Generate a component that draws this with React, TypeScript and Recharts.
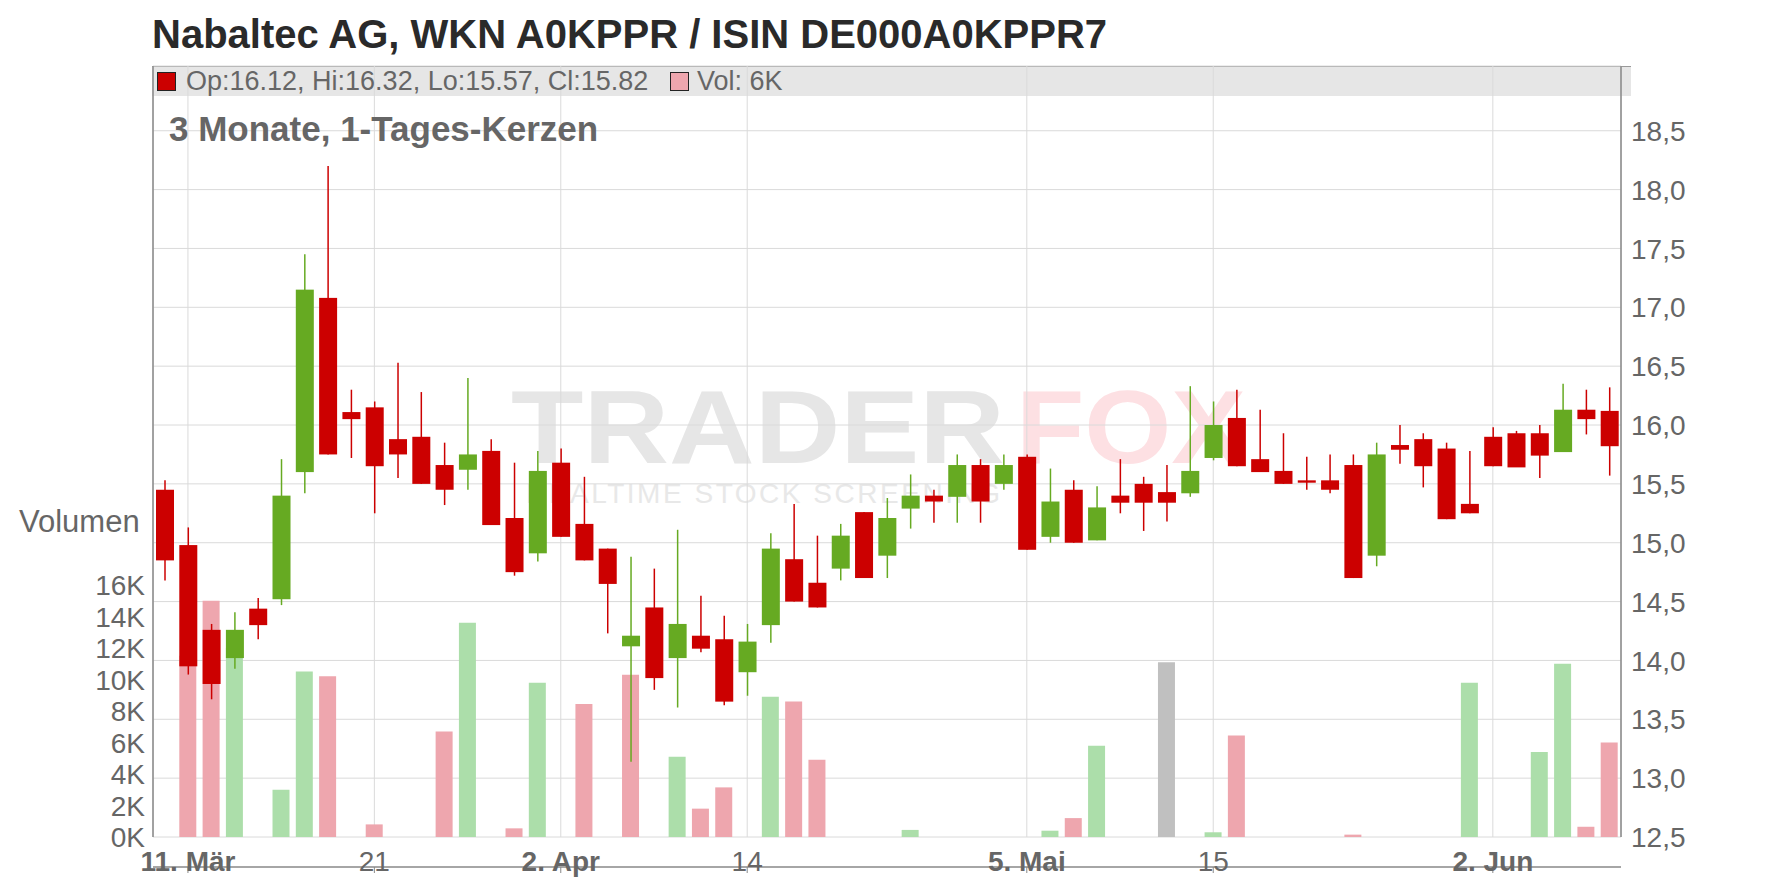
import React from 'react';
import { ComposedChart, Bar, XAxis, YAxis, CartesianGrid, Cell } from 'recharts';

// trading days, 10 Mar - 9 Jun 2025
const dates = [
  '2025-03-10', '2025-03-11', '2025-03-12', '2025-03-13', '2025-03-14',
  '2025-03-17', '2025-03-18', '2025-03-19', '2025-03-20', '2025-03-21',
  '2025-03-24', '2025-03-25', '2025-03-26', '2025-03-27', '2025-03-28',
  '2025-03-31', '2025-04-01', '2025-04-02', '2025-04-03', '2025-04-04',
  '2025-04-07', '2025-04-08', '2025-04-09', '2025-04-10', '2025-04-11',
  '2025-04-14', '2025-04-15', '2025-04-16', '2025-04-17', '2025-04-22',
  '2025-04-23', '2025-04-24', '2025-04-25', '2025-04-28', '2025-04-29',
  '2025-04-30', '2025-05-02', '2025-05-05', '2025-05-06', '2025-05-07',
  '2025-05-08', '2025-05-09', '2025-05-12', '2025-05-13', '2025-05-14',
  '2025-05-15', '2025-05-16', '2025-05-19', '2025-05-20', '2025-05-21',
  '2025-05-22', '2025-05-23', '2025-05-26', '2025-05-27', '2025-05-28',
  '2025-05-29', '2025-05-30', '2025-06-02', '2025-06-03', '2025-06-04',
  '2025-06-05', '2025-06-06', '2025-06-09',
];

const opens = [
  15.45, 14.98, 14.26, 14.02, 14.44, 14.52, 15.6, 17.08, 16.11, 16.15,
  15.88, 15.9, 15.66, 15.62, 15.78, 15.21, 14.91, 15.68, 15.16, 14.95,
  14.12, 14.45, 14.02, 14.21, 14.18, 13.9, 14.3, 14.86, 14.66, 14.78,
  15.26, 14.89, 15.29, 15.4, 15.39, 15.66, 15.5, 15.73, 15.05, 15.45,
  15.02, 15.4, 15.5, 15.43, 15.42, 15.72, 16.06, 15.71, 15.61, 15.53,
  15.53, 15.66, 14.89, 15.83, 15.88, 15.8, 15.33, 15.9, 15.93, 15.93,
  15.77, 16.13, 16.12,
];
const highs = [
  15.53, 15.13, 14.31, 14.41, 14.53, 15.71, 17.45, 18.2, 16.3, 16.2,
  16.53, 16.28, 15.85, 16.4, 15.88, 15.68, 15.78, 15.8, 15.56, 14.95,
  14.88, 14.78, 15.11, 14.55, 14.38, 14.31, 15.08, 15.33, 15.06, 15.16,
  15.26, 15.38, 15.58, 15.45, 15.75, 15.71, 15.75, 15.75, 15.63, 15.53,
  15.48, 15.71, 15.56, 15.66, 16.33, 16.2, 16.3, 16.13, 15.93, 15.73,
  15.75, 15.75, 15.85, 16.0, 15.93, 15.85, 15.78, 15.98, 15.95, 16.0,
  16.35, 16.3, 16.32,
];
const lows = [
  14.68, 13.88, 13.67, 13.93, 14.18, 14.47, 15.42, 15.75, 15.72, 15.25,
  15.55, 15.5, 15.32, 15.45, 15.15, 14.72, 14.84, 15.05, 14.85, 14.23,
  13.14, 13.75, 13.6, 14.07, 13.62, 13.7, 14.15, 14.5, 14.45, 14.68,
  14.7, 14.7, 15.12, 15.17, 15.17, 15.17, 15.45, 14.94, 15.0, 15.0,
  15.02, 15.25, 15.1, 15.18, 15.39, 15.7, 15.65, 15.6, 15.5, 15.45,
  15.42, 14.7, 14.8, 15.67, 15.47, 15.2, 15.25, 15.65, 15.65, 15.55,
  15.77, 15.92, 15.57,
];
const closes = [
  14.85, 13.95, 13.8, 14.26, 14.3, 15.4, 17.15, 15.75, 16.05, 15.65,
  15.75, 15.5, 15.45, 15.75, 15.15, 14.75, 15.61, 15.05, 14.85, 14.65,
  14.21, 13.85, 14.31, 14.1, 13.65, 14.16, 14.95, 14.5, 14.45, 15.06,
  14.7, 15.21, 15.4, 15.35, 15.66, 15.35, 15.66, 14.94, 15.35, 15.0,
  15.3, 15.34, 15.34, 15.34, 15.61, 16.0, 15.65, 15.6, 15.5, 15.51,
  15.45, 14.7, 15.75, 15.79, 15.65, 15.2, 15.25, 15.65, 15.64, 15.74,
  16.13, 16.05, 15.82,
];
const volumes = [
  0, 11500, 15000, 12000, 0, 3000, 10500, 10200, 0, 800,
  0, 0, 6700, 13600, 0, 550, 9800, 0, 8450, 0,
  10300, 0, 5100, 1800, 3150, 0, 8900, 8600, 4900, 0,
  0, 0, 450, 0, 0, 0, 0, 0, 400, 1200,
  5800, 0, 0, 11100, 0, 300, 6450, 0, 0, 0,
  0, 150, 0, 0, 0, 0, 9800, 0, 0, 5400,
  11000, 650, 6000,
];

const tickDates = ['2025-03-11', '2025-03-21', '2025-04-02', '2025-04-14', '2025-05-05', '2025-05-15', '2025-06-02'];
const tickLabels = ['11. Mär', '21', '2. Apr', '14', '5. Mai', '15', '2. Jun'];
const monthTicks = ['11. Mär', '2. Apr', '5. Mai', '2. Jun'];
const priceTicks = [12.5, 13, 13.5, 14, 14.5, 15, 15.5, 16, 16.5, 17, 17.5, 18, 18.5];
const volumeTicks = [0, 2000, 4000, 6000, 8000, 10000, 12000, 14000, 16000];

const RED = '#cc0000';
const GREEN = '#66aa22';
const VOL_DOWN = '#eea6ae';
const VOL_UP = '#acdeaa';
const VOL_FLAT = '#c0c0c0';
const TEXT = '#666666';
const FONT = '"Liberation Sans", Arial, sans-serif';

const PLOT_BOTTOM = 837;

const rows = dates.map((d, i) => ({
  d,
  o: opens[i],
  h: highs[i],
  l: lows[i],
  c: closes[i],
  range: [lows[i], highs[i]],
  vol: volumes[i],
}));

const volColor = (i: number) => {
  if (i === 0 || closes[i] === closes[i - 1]) return VOL_FLAT;
  return closes[i] > closes[i - 1] ? VOL_UP : VOL_DOWN;
};

const Candle = (props: any) => {
  const { x, y, width, height, payload } = props;
  const top = Math.min(y, y + height);
  const bottom = Math.max(y, y + height);
  const { o, h, l, c } = payload;
  const k = h > l ? (bottom - top) / (h - l) : 0;
  const py = (p: number) => top + (h - p) * k;
  const color = c >= o ? GREEN : RED;
  const cx = x + width / 2;
  const bTop = py(Math.max(o, c));
  const bBot = py(Math.min(o, c));
  return (
    <g>
      <line x1={cx} x2={cx} y1={top} y2={bottom} stroke={color} strokeWidth={1.5} />
      <rect x={x} y={bTop} width={width} height={Math.max(bBot - bTop, 1)} fill={color} />
    </g>
  );
};

// label sits just under the axis line; y from recharts came out too low
const XTick = ({ x, payload }: any) => {
  const label = tickLabels[tickDates.indexOf(payload.value)] ?? '';
  return (
    <text x={x} y={PLOT_BOTTOM + 14} dy="0.71em" textAnchor="middle" fontSize={28} fill={TEXT}
      fontFamily={FONT} fontWeight={monthTicks.includes(label) ? 'bold' : 'normal'}>
      {label}
    </text>
  );
};

const PriceTick = ({ x, y, payload }: any) => (
  <text x={x} y={y} dy="0.36em" textAnchor="start" fontSize={28} fill={TEXT} fontFamily={FONT}>
    {payload.value.toFixed(1).replace('.', ',')}
  </text>
);

const VolTick = ({ x, y, payload }: any) => (
  <text x={x} y={y} dy="0.36em" textAnchor="end" fontSize={28} fill={TEXT} fontFamily={FONT}>
    {`${payload.value / 1000}K`}
  </text>
);

export default function App() {
  const last = rows[rows.length - 1];
  const legendText = `Op:${last.o.toFixed(2)}, Hi:${last.h.toFixed(2)}, Lo:${last.l.toFixed(2)}, Cl:${last.c.toFixed(2)}`;

  return (
    <div style={{ position: 'fixed', left: 0, top: 0, width: 1776, height: 888, background: '#fff' }}>
      {/* background: legend band + watermark */}
      <svg width={1776} height={888} style={{ position: 'absolute', left: 0, top: 0 }}>
        <rect x={152} y={66} width={1479} height={30} fill="#e6e6e6" />
        <line x1={152} x2={1631} y1={66.5} y2={66.5} stroke="#999" strokeWidth={1} />
        <text x={511} y={463} fontSize={104} fontWeight="bold" fontFamily={FONT} fill="#e6e6e6"
          textLength={494} lengthAdjust="spacingAndGlyphs">TRADER</text>
        <text x={1016} y={463} fontSize={104} fontWeight="bold" fontFamily={FONT} fill="#fde0e3"
          textLength={230} lengthAdjust="spacingAndGlyphs">FOX</text>
        <text x={526} y={503} fontSize={28} fontFamily={FONT} fill="#e8e8e8"
          textLength={474} lengthAdjust="spacing">REALTIME STOCK SCREENING</text>
      </svg>

      <div style={{ position: 'absolute', left: 0, top: 0 }}>
        <ComposedChart width={1776} height={888} data={rows}
          margin={{ top: 66, right: 0, bottom: 0, left: 0 }}>
          <XAxis xAxisId="x" dataKey="d" ticks={tickDates} interval={0} height={888 - PLOT_BOTTOM}
            tick={<XTick />} tickSize={6} tickMargin={7}
            axisLine={{ stroke: '#888', strokeWidth: 1.5 }} tickLine={{ stroke: '#888' }} />
          <XAxis xAxisId="v" dataKey="d" hide />
          <YAxis yAxisId="price" orientation="right" width={155} type="number"
            domain={[12.5, 19.05]} ticks={priceTicks} allowDataOverflow interval={0}
            tick={<PriceTick />} tickSize={0} tickMargin={10} tickLine={false}
            axisLine={{ stroke: '#888', strokeWidth: 1.5 }} />
          <YAxis yAxisId="vol" orientation="left" width={153} type="number"
            domain={[0, 48950]} ticks={volumeTicks} allowDataOverflow interval={0}
            tick={<VolTick />} tickSize={0} tickMargin={8} tickLine={false}
            axisLine={{ stroke: '#888', strokeWidth: 1.5 }} />
          <CartesianGrid xAxisId="x" yAxisId="price" stroke="#dadada" strokeWidth={1} />
          <Bar xAxisId="v" yAxisId="vol" dataKey="vol" barSize={17} isAnimationActive={false}>
            {rows.map((r, i) => (
              <Cell key={r.d} fill={volColor(i)} />
            ))}
          </Bar>
          <Bar xAxisId="x" yAxisId="price" dataKey="range" barSize={18} shape={<Candle />}
            isAnimationActive={false} />
        </ComposedChart>
      </div>

      {/* texts on top */}
      <svg width={1776} height={888} style={{ position: 'absolute', left: 0, top: 0, pointerEvents: 'none' }}>
        <text x={152} y={48} fontSize={40} fontWeight="bold" fontFamily={FONT} fill="#2a2a2a">
          Nabaltec AG, WKN A0KPPR / ISIN DE000A0KPPR7
        </text>
        <rect x={157.5} y={72.5} width={18} height={18} fill={RED} stroke="#222" strokeWidth={1} />
        <text x={186} y={90} fontSize={27} fontFamily={FONT} fill={TEXT}>{legendText}</text>
        <rect x={670.5} y={72.5} width={18} height={18} fill={VOL_DOWN} stroke="#222" strokeWidth={1} />
        <text x={697} y={90} fontSize={27} fontFamily={FONT} fill={TEXT}>{`Vol: ${last.vol / 1000}K`}</text>
        <text x={169} y={141} fontSize={35} fontWeight="bold" fontFamily={FONT} fill={TEXT}>
          3 Monate, 1-Tages-Kerzen
        </text>
        <text x={19} y={532} fontSize={31} fontFamily={FONT} fill={TEXT}>Volumen</text>
      </svg>
    </div>
  );
}
